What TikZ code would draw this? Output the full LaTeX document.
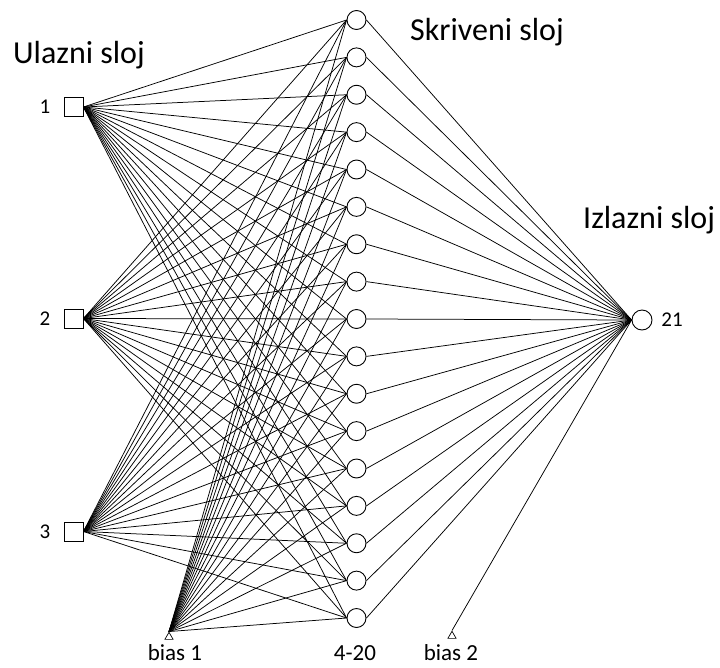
\documentclass[tikz,border=0pt]{standalone}
\usepackage{fontspec}
\setmainfont{Carlito}
\usetikzlibrary{shapes.geometric}
\begin{document}
\begin{tikzpicture}[x=1pt,y=-1pt,
  conn/.style={line width=0.75pt},
  inbox/.style={draw, line width=0.9pt, minimum size=19pt, inner sep=0pt},
  neuron/.style={draw, circle, line width=0.9pt, minimum size=19pt, inner sep=0pt},
  biasnode/.style={draw, regular polygon, regular polygon sides=3, minimum size=9.5pt, inner sep=0pt, line width=0.7pt},
  titletext/.style={font=\fontsize{32}{38}\selectfont, anchor=base west, inner sep=0pt},
  numtext/.style={font=\fontsize{21}{25}\selectfont, inner sep=0pt},
  smalltext/.style={font=\fontsize{23}{27}\selectfont, inner sep=0pt, anchor=base},
]
\fill[white] (0,0) rectangle (720,667);
\useasboundingbox (0,0) rectangle (720,667);

% titles
\node[titletext] (tin) at (13,63) {Ulazni sloj};
\node[titletext] (thid) at (410,40) {Skriveni sloj};
\node[titletext] (tout) at (583,228) {Izlazni sloj};

% input layer
\foreach \i/\y in {1/107,2/318.5,3/531.5} {
  \node[inbox] (i\i) at (73.5,\y) {};
  \node[numtext] (li\i) at (45,\y) {\i};
}

% hidden layer
\foreach \k in {0,...,16} {
  \node[neuron] (h\k) at (356.5,{20+37.375*\k}) {};
}

% output
\node[neuron, minimum size=20pt] (o) at (642,320) {};
\node[numtext] (lo) at (672,320) {21};

% biases
\node[biasnode] (b1) at (169,637) {};
\node[biasnode] (b2) at (452,636) {};
\node[smalltext] (lb1) at (175,660) {bias 1};
\node[smalltext] (lb2) at (451,660) {bias 2};
\node[smalltext] (lh) at (355,660) {4-20};

% connections
\foreach \k in {0,...,16} {
  \foreach \i in {1,2,3} {
    \draw[conn] (i\i.east) -- (h\k.west);
  }
  \draw[conn] (b1.corner 1) -- (h\k.west);
  \draw[conn] (h\k.east) -- (o.west);
}
\draw[conn] (b2.corner 1) -- (o.west);
\end{tikzpicture}
\end{document}
